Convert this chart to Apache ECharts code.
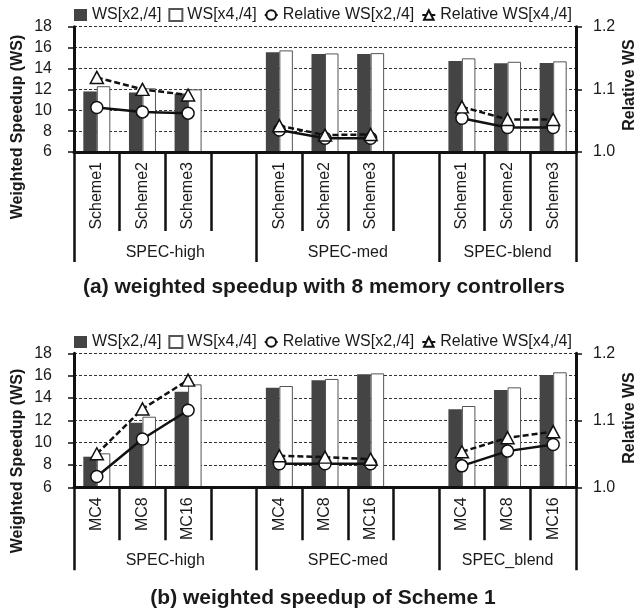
<!DOCTYPE html>
<html>
<head>
<meta charset="utf-8">
<script src="https://cdn.jsdelivr.net/npm/echarts@6/dist/echarts.min.js"></script>
<style>html,body{margin:0;padding:0;background:#fff;}#c{width:640px;height:612px;}</style>
</head>
<body>
<div id="c"></div>
<script>
// ---------- data ----------
const schemeLabels = ['Scheme1', 'Scheme2', 'Scheme3'];
const mcLabels = ['MC4', 'MC8', 'MC16'];
const groupsA = ['SPEC-high', 'SPEC-med', 'SPEC-blend'];
const groupsB = ['SPEC-high', 'SPEC-med', 'SPEC_blend'];
const seriesNames = ['WS[x2,/4]', 'WS[x4,/4]', 'Relative WS[x2,/4]', 'Relative WS[x4,/4]'];
const leftTicks = [6, 18, 2];      // min, max, step
const rightTicks = [1.0, 1.2, 0.1];

// panel (a): weighted speedup with 8 memory controllers
const wsX2A = [11.8, 11.7, 11.6, 15.55, 15.38, 15.38, 14.71, 14.49, 14.52];
const wsX4A = [12.3, 12.1, 12.0, 15.73, 15.44, 15.47, 14.97, 14.64, 14.68];
const relX2A = [1.071, 1.064, 1.062, 1.035, 1.022, 1.022, 1.054, 1.039, 1.039];
const relX4A = [1.119, 1.100, 1.091, 1.042, 1.027, 1.028, 1.072, 1.052, 1.052];

// panel (b): weighted speedup of Scheme 1
const wsX2B = [8.74, 11.78, 14.56, 14.92, 15.58, 16.12, 13.0, 14.71, 16.05];
const wsX4B = [9.04, 12.32, 15.22, 15.07, 15.70, 16.2, 13.28, 14.95, 16.3];
const relX2B = [1.016, 1.072, 1.115, 1.035, 1.035, 1.035, 1.032, 1.054, 1.064];
const relX4B = [1.050, 1.117, 1.160, 1.047, 1.045, 1.042, 1.053, 1.074, 1.083];

// ---------- helpers ----------
const FONT = '"Liberation Sans", Arial, sans-serif';
const INK = '#1a1a1a';
const PER = 3;            // items per group
const NG = 3;             // number of groups

// insert an empty slot after every group except the last
function expand(arr, blank) {
  const out = [];
  for (let g = 0; g < NG; g++) {
    for (let i = 0; i < PER; i++) out.push(arr[g * PER + i]);
    if (g < NG - 1) out.push(blank);
  }
  return out;
}
function expandLabels(labels) {
  const arr = [];
  for (let g = 0; g < NG; g++) arr.push(...labels);
  return expand(arr, '');
}
// group start indices and centres (in category units)
const groupStarts = [];
const groupCenters = [];
(function () {
  let s = 0;
  for (let g = 0; g < NG; g++) {
    const size = g < NG - 1 ? PER + 1 : PER;
    groupStarts.push(s);
    groupCenters.push(s + size / 2);
    s += size;
  }
})();
const nCats = NG * PER + NG - 1;

const xAxes = [], yAxes = [], series = [], grids = [];

function panel(p) {
  const gi = grids.length;
  grids.push({ left: 74, right: 64, top: p.top, height: p.height });
  const cats = expandLabels(p.labels);
  const xBase = xAxes.length;
  const yBase = yAxes.length;
  xAxes.push({
    gridIndex: gi, type: 'category', data: cats, position: 'bottom', boundaryGap: true, z: 4,
    axisLine: { show: true, lineStyle: { color: '#111', width: 3 } },
    axisTick: { show: true, interval: 0, length: p.tickLen, lineStyle: { color: '#111', width: 2.5 } },
    axisLabel: { interval: 0, rotate: 90, margin: 10, fontSize: 16, color: INK, fontFamily: FONT },
    splitLine: { show: false }
  });
  xAxes.push({
    gridIndex: gi, type: 'category', data: cats, position: 'bottom', boundaryGap: true, z: 4,
    axisLine: { show: false },
    axisTick: { show: true, length: p.groupLen, interval: function (i) { return groupStarts.indexOf(i) >= 0; },
      lineStyle: { color: '#111', width: 2.5 } },
    axisLabel: { show: false },
    splitLine: { show: false }
  });
  xAxes.push({
    gridIndex: gi, type: 'value', min: 0, max: nCats, interval: 0.5, position: 'bottom',
    axisLine: { show: false }, axisTick: { show: false }, splitLine: { show: false },
    axisLabel: {
      margin: p.groupMargin, fontSize: 16, color: INK, fontFamily: FONT, showMinLabel: true, showMaxLabel: true,
      formatter: function (v) {
        for (let g = 0; g < NG; g++) if (Math.abs(v - groupCenters[g]) < 1e-6) return p.groups[g];
        return '';
      }
    }
  });
  yAxes.push({
    gridIndex: gi, type: 'value', position: 'left', min: leftTicks[0], max: leftTicks[1], interval: leftTicks[2],
    axisLine: { show: true, lineStyle: { color: '#111', width: 3 } },
    axisTick: { show: true, length: 6, lineStyle: { color: '#111', width: 1.5 } },
    axisLabel: { margin: 22, fontSize: 16, color: INK, fontFamily: FONT },
    splitLine: { show: true, lineStyle: { color: '#333', width: 1, type: [3, 2] } }
  });
  yAxes.push({
    gridIndex: gi, type: 'value', position: 'right', min: rightTicks[0], max: rightTicks[1], interval: rightTicks[2],
    axisLine: { show: true, lineStyle: { color: '#111', width: 3 } },
    axisTick: { show: true, length: 6, lineStyle: { color: '#111', width: 1.5 } },
    axisLabel: { margin: 17, fontSize: 16, color: INK, fontFamily: FONT, formatter: function (v) { return v.toFixed(1); } },
    splitLine: { show: false }
  });
  series.push({
    name: seriesNames[0], type: 'bar', xAxisIndex: xBase, yAxisIndex: yBase,
    data: expand(p.ws2, null), barWidth: 13.5, barGap: '0%',
    itemStyle: { color: '#444444' }
  });
  series.push({
    name: seriesNames[1], type: 'bar', xAxisIndex: xBase, yAxisIndex: yBase,
    data: expand(p.ws4, null), barWidth: 13.5, barGap: '0%',
    itemStyle: { color: '#ffffff', borderColor: '#555', borderWidth: 1 }
  });
  series.push({
    name: seriesNames[2], type: 'line', xAxisIndex: xBase, yAxisIndex: yBase + 1,
    data: expand(p.rel2, null), connectNulls: false,
    symbol: 'circle', symbolSize: 12, showAllSymbol: true,
    itemStyle: { color: '#ffffff', borderColor: '#111', borderWidth: 1.5 },
    lineStyle: { color: '#111', width: 2.5, type: 'solid' }
  });
  series.push({
    name: seriesNames[3], type: 'line', xAxisIndex: xBase, yAxisIndex: yBase + 1,
    data: expand(p.rel4, null), connectNulls: false,
    symbol: 'triangle', symbolSize: [13, 12], showAllSymbol: true,
    itemStyle: { color: '#ffffff', borderColor: '#111', borderWidth: 1.5 },
    lineStyle: { color: '#111', width: 2.5, type: [6, 3] }
  });
}

panel({ top: 26.7, height: 125.3, labels: schemeLabels, groups: groupsA, tickLen: 79, groupLen: 110, groupMargin: 93,
  ws2: wsX2A, ws4: wsX4A, rel2: relX2A, rel4: relX4A });
panel({ top: 353.3, height: 134, labels: mcLabels, groups: groupsB, tickLen: 53, groupLen: 83, groupMargin: 65,
  ws2: wsX2B, ws4: wsX4B, rel2: relX2B, rel4: relX4B });

const legendBase = {
  left: 74, itemWidth: 13, itemHeight: 12, itemGap: 7, padding: 0,
  textStyle: { fontSize: 16, color: INK, fontFamily: FONT },
  data: [
    { name: seriesNames[0], icon: 'rect' },
    { name: seriesNames[1], icon: 'rect' },
    { name: seriesNames[2] },
    { name: seriesNames[3] }
  ]
};

function vText(text, x, y) {
  return { type: 'text', x: x, y: y, rotation: Math.PI / 2,
    style: { text: text, fill: INK, fontSize: 16, fontWeight: 'bold', fontFamily: FONT, align: 'center', verticalAlign: 'middle' } };
}
function hText(text, x, y) {
  return { type: 'text', x: x, y: y,
    style: { text: text, fill: INK, fontSize: 21, fontWeight: 'bold', fontFamily: FONT, align: 'center', verticalAlign: 'middle' } };
}

const chart = echarts.init(document.getElementById('c'), null, { renderer: 'canvas' });
chart.setOption({
  animation: false,
  backgroundColor: '#ffffff',
  textStyle: { fontFamily: FONT },
  grid: grids,
  xAxis: xAxes,
  yAxis: yAxes,
  legend: [
    Object.assign({}, legendBase, { top: 7 }),
    Object.assign({}, legendBase, { top: 334 })
  ],
  series: series,
  graphic: [
    vText('Weighted Speedup (WS)', 18, 127),
    vText('Relative WS', 630, 85),
    vText('Weighted Speedup (WS)', 18, 461),
    vText('Relative WS', 630, 418),
    hText('(a) weighted speedup with 8 memory controllers', 324, 287),
    hText('(b) weighted speedup of Scheme 1', 323, 598)
  ]
});
</script>
</body>
</html>
